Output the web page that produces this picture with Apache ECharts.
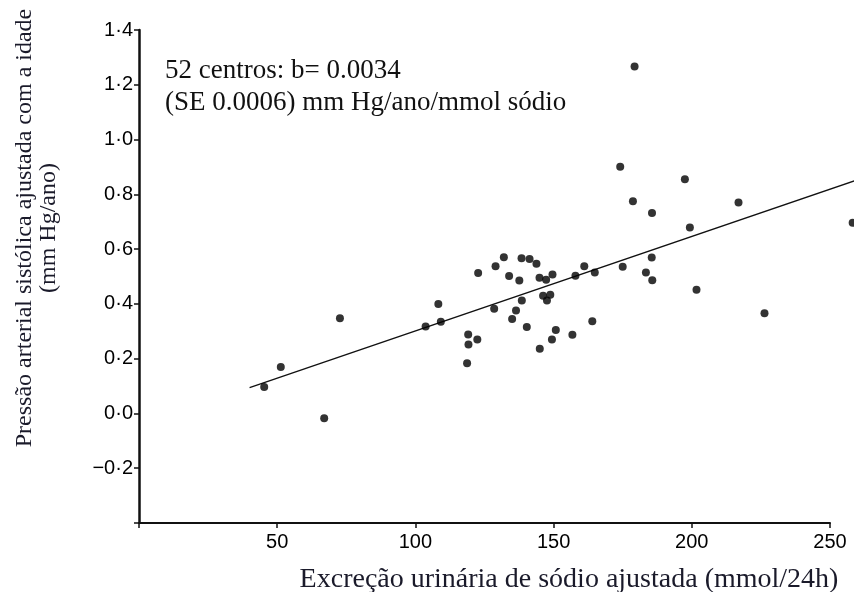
<!DOCTYPE html>
<html>
<head>
<meta charset="utf-8">
<script src="https://cdn.jsdelivr.net/npm/echarts@6/dist/echarts.min.js"></script>
<style>
  html, body { margin: 0; padding: 0; background: #fff; }
  #chart { width: 854px; height: 592px; }
</style>
</head>
<body>
<div id="chart"></div>
<script>
// Sodium excretion (mmol/24h) per centre
const sodio = [
  45.3, 51.3, 67.0, 72.7, 103.7, 108.3, 109.2, 118.7, 119.1, 119.2,
  122.4, 122.7, 128.5, 129.0, 132.0, 133.9, 135.0, 136.4, 137.6, 138.4,
  138.5, 140.3, 141.3, 143.8, 144.9, 145.0, 146.2, 147.3, 147.6, 148.8,
  149.4, 149.6, 150.8, 156.8, 157.9, 161.1, 164.0, 164.9, 174.1, 175.0,
  178.7, 179.3, 183.4, 185.5, 185.6, 185.7, 197.5, 199.3, 201.7, 216.9,
  226.3, 258.2
];
// Age-adjusted systolic BP slope (mm Hg/year)
const pressao = [
  0.097, 0.170, -0.018, 0.348, 0.317, 0.400, 0.335, 0.183, 0.288, 0.252,
  0.270, 0.513, 0.382, 0.537, 0.570, 0.502, 0.345, 0.376, 0.485, 0.567,
  0.412, 0.316, 0.564, 0.547, 0.495, 0.236, 0.430, 0.488, 0.412, 0.433,
  0.270, 0.507, 0.305, 0.287, 0.503, 0.537, 0.337, 0.515, 0.901, 0.536,
  0.775, 1.267, 0.515, 0.569, 0.732, 0.486, 0.855, 0.679, 0.452, 0.770,
  0.366, 0.696
];
// Regression line end points
const fitX = [40, 260];
const fitY = [0.094, 0.853];

const yTickLabels = {
  '-0.2': '\u22120\u00b72', '0.0': '0\u00b70', '0.2': '0\u00b72', '0.4': '0\u00b74',
  '0.6': '0\u00b76', '0.8': '0\u00b78', '1.0': '1\u00b70', '1.2': '1\u00b72', '1.4': '1\u00b74'
};
const xTickLabels = ['50', '100', '150', '200', '250'];

const serif = "'Liberation Serif', 'DejaVu Serif', serif";
const sans = "'Liberation Sans', Arial, sans-serif";

const chart = echarts.init(document.getElementById('chart'));

const option = {
  animation: false,
  backgroundColor: '#fff',
  grid: { left: 139, right: 24, top: 30, bottom: 69 },
  xAxis: {
    type: 'value',
    min: 0,
    max: 250,
    interval: 50,
    splitLine: { show: false },
    axisLine: { onZero: false, lineStyle: { color: '#111', width: 2 } },
    axisTick: { length: 5, lineStyle: { color: '#111', width: 1.5 } },
    axisLabel: {
      color: '#000',
      fontFamily: sans,
      fontSize: 20,
      margin: 9,
      formatter: v => xTickLabels.includes(String(v)) ? String(v) : ''
    }
  },
  yAxis: {
    type: 'value',
    min: -0.4,
    max: 1.4,
    interval: 0.2,
    splitLine: { show: false },
    axisLine: { onZero: false, lineStyle: { color: '#111', width: 2.5 } },
    axisTick: { length: 5, lineStyle: { color: '#111', width: 1.5 } },
    axisLabel: {
      color: '#000',
      fontFamily: sans,
      fontSize: 20,
      margin: 6,
      formatter: v => yTickLabels[v.toFixed(1)] || ''
    }
  },
  series: [
    {
      type: 'scatter',
      data: sodio.map((x, i) => [x, pressao[i]]),
      symbol: 'circle',
      symbolSize: 8,
      clip: false,
      itemStyle: { color: '#000' }
    },
    {
      // regression line, drawn through the axes but allowed past the grid edge
      type: 'custom',
      clip: false,
      data: [[fitX[0], fitY[0], fitX[1], fitY[1]]],
      encode: { x: [0, 2], y: [1, 3] },
      renderItem: function(params, api) {
        const p1 = api.coord([api.value(0), api.value(1)]);
        const p2 = api.coord([api.value(2), api.value(3)]);
        return {
          type: 'line',
          shape: { x1: p1[0], y1: p1[1], x2: p2[0], y2: p2[1] },
          style: { stroke: '#111', lineWidth: 1.3 }
        };
      }
    }
  ],
  graphic: [
    {
      type: 'text',
      left: 165,
      top: 55,
      style: {
        text: '52 centros: b= 0.0034\n(SE 0.0006) mm Hg/ano/mmol sódio',
        font: '27px ' + serif,
        fill: '#111',
        lineHeight: 32
      }
    },
    {
      type: 'text',
      x: 569,
      y: 580,
      style: {
        text: 'Excreção urinária de sódio ajustada (mmol/24h)',
        font: '28px ' + serif,
        fill: '#1a1a2a',
        align: 'center',
        verticalAlign: 'middle'
      }
    },
    {
      type: 'text',
      x: 37,
      y: 228,
      rotation: Math.PI / 2,
      style: {
        text: 'Pressão arterial sistólica ajustada com a idade\n(mm Hg/ano)',
        font: '24px ' + serif,
        fill: '#1a1a2a',
        align: 'center',
        verticalAlign: 'middle',
        lineHeight: 24
      }
    }
  ]
};

chart.setOption(option);
</script>
</body>
</html>
